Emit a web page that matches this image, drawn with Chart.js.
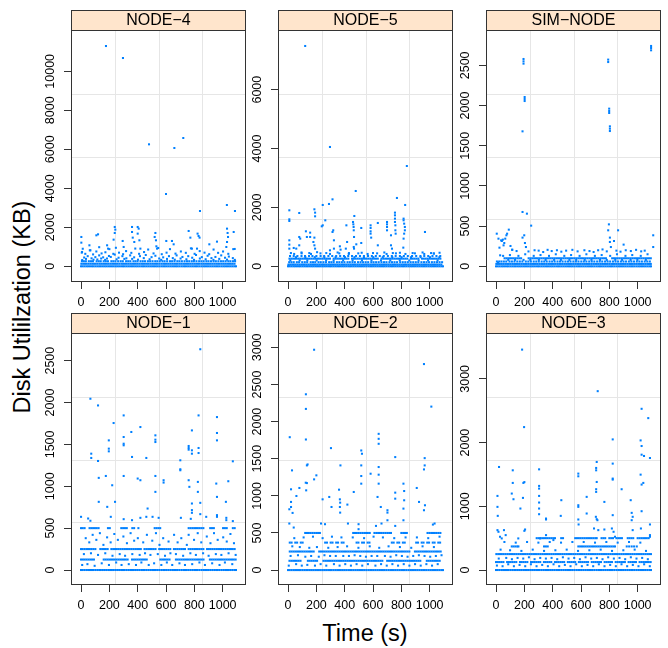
<!DOCTYPE html>
<html>
<head>
<meta charset="utf-8">
<script src="https://cdn.jsdelivr.net/npm/chart.js@4.4.1/dist/chart.umd.min.js"></script>
<style>
  body { margin: 0; background: #fff; width: 668px; height: 648px; position: relative; overflow: hidden;
         font-family: "Liberation Sans", Arial, sans-serif; color: #000; }
  canvas { position: absolute; }
  .axis-title { position: absolute; font-size: 23.5px; line-height: 1; white-space: nowrap; }
  #ytitle { left: 23px; top: 307px; transform: translate(-50%, -50%) rotate(-90deg); }
  #xtitle { left: 365px; top: 634px; transform: translate(-50%, -50%); }
</style>
</head>
<body>
<div id="ytitle" class="axis-title">Disk Utililzation (KB)</div>
<div id="xtitle" class="axis-title">Time (s)</div>
<script>
// time axis (seconds)
const timeTicks = [0, 200, 400, 600, 800, 1000];
const sampleTimes = [0, 12, 25, 38, 50, 63, 77, 89, 102, 115, 128, 140, 154, 167, 179, 192, 205, 218, 231, 244, 256, 269, 283, 296, 308, 321, 334, 347, 360, 373, 386, 398, 411, 425, 438, 450, 463, 476, 489, 502, 515, 528, 540, 553, 567, 580, 592, 605, 618, 631, 644, 657, 670, 682, 695, 709, 722, 734, 747, 760, 773, 786, 799, 812, 824, 837, 851, 864, 876, 889, 902, 915, 928, 941, 954, 966, 979, 993, 1006, 1018, 1031, 1044, 1057, 1070, 1083, 1094];

// NODE-4
const node4Ticks = [0, 2000, 4000, 6000, 8000, 10000];
const node4Row130 = [2, 15, 28, 40, 53, 66, 79, 92, 104, 117, 131, 143, 156, 169, 182, 194, 207, 220, 233, 246, 258, 271, 285, 297, 310, 323, 336, 349, 361, 374, 387, 400, 413, 426, 438, 451, 465, 477, 490, 503, 516, 529, 541, 554, 568, 581, 593, 606, 619, 632, 645, 658, 671, 683, 697, 710, 723, 735, 748, 761, 774, 787, 800, 813, 826, 838, 852, 865, 877, 890, 903, 916, 929, 942, 955, 968, 980, 994, 1007, 1019, 1032, 1045, 1058, 1071, 1084];
const node4Row260 = [6, 20, 34, 55, 70, 84, 110, 125, 139, 160, 175, 190, 214, 228, 243, 262, 280, 295, 318, 333, 348, 370, 384, 399, 420, 436, 452, 472, 488, 505, 524, 539, 556, 575, 590, 608, 628, 643, 660, 680, 695, 712, 731, 748, 764, 782, 797, 815, 834, 850, 866, 885, 900, 918, 936, 952, 970, 988, 1004, 1021, 1040, 1055, 1073, 1088];
const node4Points = [
  [8, 320], [22, 450], [35, 380], [47, 520], [74, 410], [88, 340], [101, 470], [115, 350], [128, 560], [142, 400], [156, 460], [170, 330], [183, 400], [197, 530], [210, 480], [238, 600], [251, 360], [265, 440], [292, 520], [306, 380], [320, 410], [347, 560], [361, 380], [375, 460], [402, 340], [416, 520], [443, 420], [457, 580], [484, 360], [498, 470], [525, 540], [552, 400], [566, 330], [580, 460], [607, 380], [621, 520], [648, 420], [662, 340], [675, 560], [703, 400], [716, 480], [744, 360], [757, 520], [785, 440], [798, 330], [812, 580], [839, 400], [853, 470], [880, 360], [894, 540], [921, 420], [935, 330], [949, 480], [976, 380], [990, 560], [1017, 440], [1031, 340], [1044, 500], [1072, 420], [1086, 330],
  [5, 700], [12, 900], [30, 640], [62, 820], [85, 610], [108, 760], [128, 980], [145, 660], [172, 720], [200, 880], [228, 640], [246, 950], [268, 700], [297, 620], [318, 780], [355, 690], [383, 910], [410, 640], [445, 730], [474, 860], [512, 660], [545, 940], [570, 620], [604, 700], [628, 880], [667, 650], [705, 760], [740, 690], [776, 920], [802, 640], [838, 780], [872, 700], [905, 620], [936, 860], [968, 690], [1003, 760], [1040, 640], [1075, 880],
  [2, 1504], [2, 1213], [7, 735], [59, 1077], [66, 820], [108, 1589], [120, 1640], [184, 1077], [191, 906], [238, 2017], [242, 1880], [238, 1709], [230, 1367], [294, 1299], [301, 991], [360, 2017], [360, 1760], [365, 1470], [376, 1247], [400, 2017], [407, 1931], [400, 1675], [412, 1333], [419, 906], [525, 1709], [520, 1504], [529, 1333], [532, 1025], [537, 906], [602, 1299], [642, 1299], [654, 1128], [760, 1811], [772, 1470], [783, 906], [823, 1675], [830, 1555], [837, 1470], [819, 906], [906, 1128], [960, 1265], [1031, 1931], [1035, 1709], [1038, 1504], [1031, 1247], [1026, 991], [1078, 1760], [1085, 889],
  [176, 11297], [296, 10682], [480, 6256], [659, 6067], [722, 6580], [600, 3708], [840, 2836], [1030, 3144], [1087, 2836]
];

// NODE-5
const node5Ticks = [0, 2000, 4000, 6000];
const node5Row60 = [3, 16, 29, 41, 54, 67, 80, 93, 106, 118, 131, 144, 157, 170, 183, 196, 208, 221, 234, 247, 260, 273, 286, 298, 311, 324, 337, 350, 363, 376, 388, 401, 414, 427, 440, 453, 466, 478, 491, 504, 517, 530, 543, 556, 568, 581, 594, 607, 620, 633, 646, 658, 671, 684, 697, 710, 723, 736, 748, 761, 774, 787, 800, 813, 826, 838, 851, 864, 877, 890, 903, 916, 928, 941, 954, 967, 980, 993, 1006, 1018, 1031, 1044, 1057, 1070, 1083];
const node5Row140 = [8, 24, 40, 62, 78, 100, 118, 135, 160, 176, 192, 215, 231, 250, 268, 290, 306, 322, 345, 362, 380, 398, 420, 436, 455, 472, 494, 512, 530, 548, 566, 588, 604, 622, 640, 660, 678, 695, 716, 734, 752, 770, 792, 810, 828, 846, 866, 884, 902, 920, 942, 960, 978, 996, 1016, 1034, 1052, 1070, 1088];
const node5Row260 = [10, 23, 36, 49, 62, 75, 88, 101, 114, 127, 140, 153, 166, 179, 192, 205, 218, 231, 244, 257, 270, 283, 296, 322, 335, 348, 361, 374, 387, 400, 413, 426, 452, 465, 478, 491, 504, 517, 530, 543, 556, 569, 582, 595, 608, 621, 634, 660, 673, 686, 699, 712, 725, 738, 751, 764, 777, 790, 803, 816, 829, 842, 868, 881, 894, 907, 920, 946, 959, 972, 985, 998, 1011, 1024, 1037, 1050, 1063, 1076];
const node5Row350 = [14, 40, 66, 95, 120, 148, 172, 200, 230, 255, 285, 312, 340, 368, 395, 425, 452, 480, 508, 536, 565, 592, 620, 648, 676, 705, 733, 760, 790, 818, 846, 876, 905, 935, 962, 990, 1020, 1048, 1075];
const node5Points = [
  [4, 30], [16, 200], [43, 420], [56, 310], [82, 200], [96, 440], [122, 310], [136, 200], [162, 420], [189, 310], [202, 200], [229, 440], [256, 310], [269, 200], [296, 420], [322, 200], [336, 310], [362, 440], [389, 200], [402, 310], [429, 420], [456, 200], [469, 310], [496, 440], [522, 200], [536, 310], [562, 420], [589, 200], [602, 310], [629, 440], [656, 200], [669, 310], [696, 420], [722, 200], [736, 310], [762, 440], [789, 200], [802, 310], [829, 420], [856, 200], [869, 310], [896, 440], [922, 200], [936, 310], [962, 420], [989, 200], [1002, 310], [1029, 440], [1056, 200], [1069, 310],
  [20, 450], [95, 470], [150, 450], [205, 480], [270, 450], [350, 470], [430, 450], [520, 460], [600, 450], [680, 470], [740, 450], [790, 460], [880, 450], [950, 470], [1010, 450], [1070, 460],
  [9, 883], [9, 736], [9, 600], [40, 623], [58, 600], [79, 713], [79, 996], [86, 940], [126, 1189], [133, 996], [156, 996], [156, 1143], [179, 826], [186, 974], [186, 713], [191, 600], [238, 1358], [245, 1392], [314, 1166], [319, 1223], [324, 883], [324, 600], [296, 543], [366, 679], [371, 566], [412, 1392], [417, 826], [408, 600], [459, 1506], [461, 1426], [463, 1336], [464, 1223], [466, 996], [464, 657], [466, 600], [482, 747], [517, 1302], [517, 792], [583, 1392], [583, 1302], [583, 1189], [583, 1109], [587, 974], [634, 1472], [634, 713], [699, 1506], [699, 1426], [699, 1336], [699, 1223], [727, 1053], [727, 713], [734, 600], [755, 1823], [755, 1732], [755, 1619], [755, 1506], [758, 1392], [758, 1223], [760, 1109], [769, 2321], [816, 1619], [816, 1562], [820, 1449], [825, 1336], [825, 1223], [820, 1109], [816, 940], [814, 634], [827, 2083], [839, 3407], [967, 1166], [1030, 430],
  [9, 1902], [9, 1596], [9, 1540], [79, 1811], [186, 1936], [191, 1823], [191, 1698], [245, 2083], [289, 2117], [314, 2275], [263, 1562], [468, 1709], [478, 2558], [296, 4053], [121, 7483]
];

// SIM-NODE
const simTicks = [0, 500, 1000, 1500, 2000, 2500];
const simRow30 = [2, 14, 27, 40, 52, 65, 78, 90, 103, 116, 128, 141, 154, 166, 179, 192, 205, 217, 230, 243, 255, 268, 281, 293, 306, 319, 331, 344, 357, 370, 382, 395, 408, 420, 433, 446, 458, 471, 484, 496, 509, 522, 535, 547, 560, 573, 585, 598, 611, 623, 636, 649, 661, 674, 687, 700, 712, 725, 738, 750, 763, 776, 788, 801, 814, 826, 839, 852, 865, 877, 890, 903, 915, 928, 941, 953, 966, 979, 991, 1004, 1017, 1030, 1042, 1055, 1068, 1080, 1093];
const simRow60 = [6, 22, 38, 55, 72, 95, 112, 130, 150, 168, 186, 210, 228, 246, 266, 284, 302, 322, 340, 358, 378, 396, 414, 434, 452, 470, 490, 508, 526, 546, 564, 582, 602, 620, 638, 658, 676, 694, 714, 732, 750, 770, 788, 806, 826, 844, 862, 882, 900, 918, 938, 956, 974, 994, 1012, 1030, 1050, 1068, 1086];
const simRow100 = [60, 73, 86, 99, 112, 125, 138, 151, 164, 177, 230, 243, 256, 269, 282, 295, 308, 321, 334, 347, 360, 373, 386, 399, 412, 425, 438, 451, 464, 477, 490, 503, 516, 529, 542, 555, 568, 581, 594, 607, 620, 633, 646, 659, 672, 685, 698, 711, 724, 737, 750, 763, 776, 820, 833, 846, 859, 872, 885, 898, 911, 924, 937, 950, 963, 976, 989, 1002, 1015, 1028, 1041, 1054, 1067, 1080, 1093];
const simPoints = [
  [14, 45], [50, 130], [86, 80], [98, 140], [134, 80], [158, 130], [194, 80], [206, 150], [242, 80], [266, 130], [302, 80], [314, 140], [350, 80], [374, 130], [410, 80], [422, 150], [458, 80], [482, 130], [518, 80], [530, 140], [566, 80], [590, 130], [626, 80], [638, 150], [674, 80], [698, 130], [734, 80], [746, 140], [782, 80], [806, 130], [842, 80], [854, 150], [890, 80], [914, 130], [950, 80], [962, 140], [998, 80], [1022, 130], [1058, 80], [1070, 150],
  [114, 205], [145, 190], [229, 185], [272, 200], [301, 195], [333, 178], [364, 205], [393, 190], [430, 200], [461, 182], [495, 195], [539, 205], [576, 186], [624, 200], [660, 190], [689, 178], [721, 200], [752, 210], [782, 186], [850, 195], [879, 182], [916, 200], [952, 190], [989, 205], [1025, 186], [1050, 195],
  [5, 406], [17, 344], [24, 232], [36, 323], [48, 332], [58, 290], [65, 344], [78, 406], [90, 456], [29, 137], [41, 315], [53, 261], [73, 386], [102, 253], [114, 207],
  [187, 357], [199, 386], [204, 290], [211, 240], [187, 676], [218, 655], [248, 506],
  [797, 522], [792, 448], [804, 357], [804, 303], [811, 240], [833, 315], [862, 448], [901, 270],
  [1110, 386], [1110, 240],
  [194, 2579], [194, 2550], [194, 2521], [202, 2106], [202, 2081], [202, 2056], [187, 1679], [792, 2571], [792, 2541], [799, 1961], [799, 1932], [799, 1907], [804, 1741], [804, 1712], [804, 1683], [1095, 2741], [1095, 2716], [1095, 2687]
];

// NODE-1
const node1Ticks = [0, 500, 1000, 1500, 2000, 2500];
const node1Row125 = [0, 13, 26, 39, 52, 65, 78, 91, 160, 173, 186, 199, 212, 225, 238, 251, 264, 277, 290, 303, 316, 329, 360, 373, 386, 399, 412, 425, 438, 451, 464, 560, 573, 586, 599, 612, 625, 670, 683, 696, 709, 722, 735, 748, 761, 774, 787, 800, 813, 826, 839, 852, 865, 910, 923, 936, 949, 962, 975, 988, 1001, 1014, 1027, 1040, 1053, 1066, 1079, 1092];
const node1Row250 = [0, 11, 24, 37, 49, 62, 75, 88, 101, 136, 149, 162, 175, 188, 214, 227, 240, 253, 266, 279, 292, 305, 318, 331, 344, 357, 370, 383, 396, 409, 422, 448, 461, 474, 487, 500, 513, 526, 552, 565, 578, 591, 604, 617, 630, 656, 669, 682, 695, 708, 721, 734, 760, 773, 786, 799, 812, 825, 838, 851, 864, 890, 903, 916, 929, 942, 955, 968, 981, 994, 1007, 1020, 1033, 1046, 1059, 1072, 1085];
const node1Row500 = [0, 12, 25, 60, 72, 85, 98, 111, 124, 190, 203, 284, 297, 310, 323, 362, 375, 405, 520, 533, 546, 559, 760, 773, 786, 799, 812, 825, 838, 851, 864, 912, 925, 938, 1003, 1016, 1029, 1072, 1085];
const node1Points = [
  [8, 60], [20, 190], [33, 380], [45, 70], [58, 330], [70, 200], [82, 420], [96, 50], [108, 360], [120, 180], [133, 440], [146, 80], [158, 300], [171, 200], [184, 390], [197, 60], [209, 330], [222, 170], [235, 430], [248, 90], [260, 360], [273, 190], [286, 60], [299, 400], [311, 170], [324, 320], [337, 70], [350, 440], [362, 190], [375, 350], [388, 60], [401, 380], [414, 180], [426, 90], [439, 330], [452, 200], [465, 420], [478, 60], [490, 180], [503, 350], [516, 80], [529, 440], [542, 190], [554, 300], [567, 60], [580, 380], [593, 170], [606, 90], [618, 340], [631, 200], [644, 60], [657, 420], [670, 190], [682, 330], [695, 80], [708, 380], [721, 170], [734, 60], [747, 300], [760, 420], [772, 200], [785, 70], [798, 360], [811, 180], [824, 440], [836, 90], [849, 330], [862, 200], [875, 60], [888, 400], [901, 170], [914, 320], [926, 80], [939, 440], [952, 190], [965, 360], [978, 60], [991, 180], [1004, 390], [1016, 90], [1029, 340], [1042, 200], [1055, 430], [1068, 70], [1080, 320], [1092, 180],
  [0, 635], [50, 615], [66, 588], [210, 635], [301, 607], [360, 595], [419, 623], [461, 635], [505, 635], [548, 623], [705, 623], [775, 611], [842, 667], [884, 635], [960, 635], [960, 655], [1026, 623], [1026, 595], [1072, 584],
  [125, 1100], [175, 1123], [220, 1012], [301, 1123], [400, 1092], [419, 1072], [525, 1123], [525, 933], [583, 1072], [583, 1044], [760, 1072], [765, 993], [825, 1052], [825, 933], [955, 1032], [960, 873], [1040, 1060], [1023, 814], [125, 814], [240, 814], [185, 754], [470, 734], [783, 794], [783, 715], [783, 683], [842, 802],
  [66, 2045], [120, 1965], [301, 1846], [230, 1755], [419, 1707], [355, 1648], [525, 1608], [525, 1556], [525, 1528], [196, 1548], [196, 1449], [196, 1417], [301, 1588], [301, 1508], [301, 1489], [72, 1389], [72, 1338], [120, 1302], [360, 1350], [461, 1338], [701, 1310], [701, 1203], [701, 1191], [760, 1481], [760, 1457], [760, 1437], [783, 1429], [783, 1389], [830, 1457], [830, 1397], [830, 1846], [783, 1667], [960, 1826], [960, 1636], [960, 1548], [842, 2636], [1072, 1298]
];

// NODE-2
const node2Ticks = [0, 500, 1000, 1500, 2000, 2500, 3000];
const node2Row125 = [10, 23, 36, 49, 62, 75, 88, 140, 153, 166, 179, 192, 205, 250, 263, 276, 289, 302, 315, 328, 341, 354, 367, 380, 393, 406, 419, 432, 445, 458, 471, 484, 497, 510, 523, 536, 549, 562, 575, 588, 601, 614, 627, 640, 653, 666, 700, 713, 726, 739, 752, 765, 778, 791, 804, 817, 830, 843, 856, 869, 882, 895, 908, 921, 934, 980, 993, 1006, 1019, 1032, 1045, 1058, 1071];
const node2Row250 = [12, 25, 38, 51, 64, 77, 90, 103, 116, 129, 142, 155, 168, 181, 220, 233, 246, 259, 272, 285, 298, 311, 324, 337, 350, 363, 376, 389, 402, 415, 428, 441, 454, 467, 480, 493, 506, 519, 532, 545, 558, 571, 584, 597, 610, 623, 636, 649, 662, 675, 688, 701, 714, 727, 740, 753, 766, 779, 792, 805, 818, 831, 844, 857, 896, 909, 922, 935, 948, 961, 974, 987, 1000, 1013, 1026, 1039, 1052, 1065, 1078];
const node2Row370 = [12, 25, 51, 64, 90, 103, 262, 275, 301, 314, 340, 353, 379, 392, 484, 497, 523, 536, 562, 575, 733, 746, 772, 785, 811, 824, 905, 918, 944, 957, 983, 996, 1022, 1035, 1061, 1074];
const node2Row500 = [121, 134, 147, 160, 173, 186, 199, 212, 225, 460, 473, 486, 499, 512, 525, 538, 551, 564, 577, 610, 623, 636, 649, 662, 675, 688, 701, 714, 727, 800, 813, 826, 839, 985, 998, 1011, 1024, 1037, 1050, 1063, 1076];
const node2Points = [
  [5, 60], [18, 190], [30, 320], [44, 430], [57, 80], [70, 200], [83, 310], [97, 60], [110, 440], [122, 180], [136, 70], [150, 300], [163, 190], [176, 450], [190, 60], [204, 310], [217, 180], [230, 80], [244, 430], [257, 200], [270, 60], [284, 300], [297, 190], [310, 450], [324, 80], [337, 190], [350, 310], [364, 60], [377, 440], [390, 190], [404, 80], [417, 320], [430, 190], [444, 60], [457, 440], [470, 200], [484, 80], [497, 300], [510, 190], [524, 60], [537, 430], [550, 180], [564, 80], [577, 320], [590, 190], [604, 450], [617, 60], [630, 190], [644, 300], [657, 80], [670, 440], [684, 190], [697, 60], [710, 320], [724, 180], [737, 80], [750, 430], [764, 200], [777, 60], [790, 310], [804, 190], [817, 80], [830, 440], [844, 180], [857, 60], [870, 300], [884, 190], [897, 80], [910, 440], [924, 200], [937, 60], [950, 320], [964, 190], [977, 80], [990, 430], [1004, 180], [1017, 60], [1030, 310], [1044, 190], [1057, 80], [1070, 450], [1084, 200],
  [9, 627], [40, 573], [233, 627], [261, 618], [423, 627], [498, 618], [498, 551], [621, 595], [660, 627], [1023, 613], [1035, 627],
  [184, 2968], [960, 2775], [126, 2368], [126, 2171], [126, 1759], [1012, 2202], [12, 1790], [640, 1835], [640, 1768], [640, 1701], [303, 1643], [517, 1611], [522, 1567], [757, 1522], [965, 1508], [965, 1410], [960, 1356], [28, 1343], [138, 1423], [133, 1410], [370, 1410], [517, 1410], [517, 1267], [517, 1164], [583, 1298], [640, 1388], [640, 1285], [640, 1164], [200, 1276], [184, 1222], [125, 1177], [133, 1172], [128, 1074], [21, 1088], [59, 998], [80, 1106], [9, 819], [21, 918], [21, 850], [32, 770], [244, 953], [291, 985], [307, 850], [360, 1083], [366, 953], [368, 908], [366, 850], [368, 774], [419, 882], [464, 1052], [632, 985], [655, 850], [702, 806], [702, 774], [702, 671], [757, 1043], [757, 962], [757, 595], [815, 1164], [820, 1065], [820, 940], [815, 828], [815, 671], [909, 1106], [925, 918], [960, 806], [967, 873]
];

// NODE-3
const node3Ticks = [0, 1000, 2000, 3000];
const node3Row125 = [0, 13, 26, 39, 52, 78, 91, 104, 117, 130, 143, 169, 182, 195, 208, 221, 247, 260, 273, 286, 299, 312, 338, 351, 364, 377, 390, 416, 429, 442, 455, 468, 481, 507, 520, 533, 546, 559, 585, 598, 611, 624, 637, 650, 676, 689, 702, 715, 728, 741, 767, 780, 793, 806, 819, 845, 858, 871, 884, 897, 910, 936, 949, 962, 975, 988, 1014, 1027, 1040, 1053, 1066, 1079, 1092];
const node3Row250 = [2, 15, 28, 41, 54, 67, 80, 93, 106, 119, 132, 145, 158, 171, 184, 197, 210, 223, 236, 249, 262, 275, 288, 301, 314, 327, 340, 353, 366, 379, 392, 405, 418, 431, 444, 457, 470, 483, 496, 509, 522, 535, 548, 561, 574, 587, 600, 613, 626, 639, 652, 665, 678, 691, 704, 717, 730, 743, 756, 769, 782, 795, 808, 821, 834, 847, 860, 873, 886, 899, 912, 925, 938, 951, 964, 977, 990, 1003, 1016, 1029, 1042, 1055, 1068, 1081, 1094];
const node3Row370 = [111, 124, 137, 150, 158, 339, 352, 365, 581, 594, 607, 620, 633, 646, 659, 672, 685, 698, 711, 724, 737, 750, 763, 776, 789, 802, 815, 828, 840, 923, 940, 958, 975, 994];
const node3Row500 = [287, 300, 313, 326, 339, 352, 365, 378, 391, 404, 416, 460, 473, 559, 572, 585, 598, 611, 624, 637, 650, 663, 676, 689, 702, 711, 745, 758, 771, 800, 813, 826, 850, 863, 876, 889, 930, 943, 956, 969, 1000, 1013, 1026, 1039, 1052, 1065, 1078];
const node3Points = [
  [6, 70], [19, 180], [32, 320], [46, 60], [59, 440], [72, 190], [86, 90], [99, 310], [112, 170], [126, 60], [139, 430], [152, 190], [166, 80], [179, 300], [192, 180], [206, 60], [219, 440], [232, 200], [246, 90], [259, 320], [272, 170], [286, 60], [299, 430], [312, 190], [326, 80], [339, 300], [352, 180], [366, 60], [379, 440], [392, 190], [406, 90], [419, 310], [432, 170], [446, 60], [459, 430], [472, 200], [486, 80], [499, 320], [512, 180], [526, 60], [539, 440], [552, 190], [566, 90], [579, 300], [592, 170], [606, 60], [619, 440], [632, 200], [646, 80], [659, 310], [672, 180], [686, 60], [699, 430], [712, 190], [726, 90], [739, 320], [752, 170], [766, 60], [779, 440], [792, 200], [806, 80], [819, 300], [832, 180], [846, 60], [859, 430], [872, 190], [886, 90], [899, 310], [912, 170], [926, 60], [939, 440], [952, 200], [966, 80], [979, 320], [992, 180], [1006, 60], [1019, 430], [1032, 190], [1046, 90], [1059, 300], [1072, 170], [1086, 60],
  [10, 626], [17, 600], [28, 522], [40, 496], [56, 626], [68, 548], [205, 636], [200, 615], [157, 496], [311, 496], [353, 548], [405, 470], [692, 652], [722, 626], [765, 636], [818, 652], [830, 600], [840, 522], [965, 626], [1023, 652], [1087, 522], [1087, 548],
  [184, 3459], [718, 2807], [198, 2243], [1028, 2530], [1075, 2384], [824, 2050], [1021, 2034], [1028, 1946], [1028, 1810], [1045, 1790], [1087, 1758], [711, 1696], [707, 1602], [707, 1565], [711, 1382], [707, 1268], [707, 1226], [824, 1670], [824, 1435], [824, 1419], [1021, 1497], [1040, 1367], [1028, 1341], [21, 1617], [118, 1565], [304, 1580], [581, 1513], [581, 1471], [581, 1017], [581, 991], [118, 1367], [193, 1367], [200, 1380], [111, 1200], [123, 1111], [304, 1320], [304, 1278], [304, 1163], [304, 1059], [304, 965], [304, 876], [190, 1132], [172, 965], [10, 1163], [10, 991], [12, 850], [461, 1096], [887, 1268], [765, 1069], [951, 1096], [958, 897], [965, 835], [958, 782], [640, 1148], [353, 808], [353, 793], [457, 850], [581, 793], [583, 715], [640, 887], [705, 835], [711, 798], [716, 782], [824, 861], [1028, 923], [1087, 715]
];

const FONT = "'Liberation Sans', Arial, sans-serif";
const STRIP_H = 21;

function rowPoints(xs, y) { return xs.map(x => ({ x, y })); }
function pairPoints(list) { return list.map(([x, y]) => ({ x, y })); }

const panels = [
  { title: 'NODE−4', left: 71, top: 10, yMin: -805, yMax: 12067, ticks: node4Ticks,
    data: [...rowPoints(sampleTimes, 0), ...rowPoints(node4Row130, 130), ...rowPoints(node4Row260, 260), ...pairPoints(node4Points)] },
  { title: 'NODE−5', left: 278, top: 10, yMin: -533, yMax: 7992, ticks: node5Ticks,
    data: [...rowPoints(sampleTimes, 0), ...rowPoints(node5Row60, 60), ...rowPoints(node5Row140, 140), ...rowPoints(node5Row260, 260), ...rowPoints(node5Row350, 350), ...pairPoints(node5Points)] },
  { title: 'SIM−NODE', left: 486, top: 10, yMin: -195, yMax: 2927, ticks: simTicks,
    data: [...rowPoints(sampleTimes, 0), ...rowPoints(simRow30, 30), ...rowPoints(simRow60, 60), ...rowPoints(simRow100, 100), ...pairPoints(simPoints)] },
  { title: 'NODE−1', left: 71, top: 313, yMin: -179, yMax: 2818, ticks: node1Ticks,
    data: [...rowPoints(sampleTimes, 0), ...rowPoints(node1Row125, 125), ...rowPoints(node1Row250, 250), ...rowPoints(node1Row500, 500), ...pairPoints(node1Points)] },
  { title: 'NODE−2', left: 278, top: 313, yMin: -201, yMax: 3180, ticks: node2Ticks,
    data: [...rowPoints(sampleTimes, 0), ...rowPoints(node2Row125, 125), ...rowPoints(node2Row250, 250), ...rowPoints(node2Row370, 370), ...rowPoints(node2Row500, 500), ...pairPoints(node2Points)] },
  { title: 'NODE−3', left: 486, top: 313, yMin: -235, yMax: 3704, ticks: node3Ticks,
    data: [...rowPoints(sampleTimes, 0), ...rowPoints(node3Row125, 125), ...rowPoints(node3Row250, 250), ...rowPoints(node3Row370, 370), ...rowPoints(node3Row500, 500), ...pairPoints(node3Points)] }
];

// strip, frame, quarter grid and rotated y labels, lattice style
const latticePanel = {
  id: 'latticePanel',
  beforeDatasetsDraw(chart) {
    const { ctx, chartArea: a } = chart;
    ctx.save();
    ctx.strokeStyle = '#e6e6e6';
    ctx.lineWidth = 1;
    ctx.beginPath();
    for (let i = 1; i < 4; i++) {
      const x = Math.round(a.left + (a.right - a.left) * i / 4) + 0.5;
      const y = Math.round(a.top + (a.bottom - a.top) * i / 4) + 0.5;
      ctx.moveTo(x, a.top); ctx.lineTo(x, a.bottom);
      ctx.moveTo(a.left, y); ctx.lineTo(a.right, y);
    }
    ctx.stroke();
    ctx.restore();
  },
  afterDraw(chart, args, opts) {
    const { ctx, chartArea: a } = chart;
    const yScale = chart.scales.y;
    ctx.save();
    // strip
    ctx.fillStyle = '#ffe5cc';
    ctx.fillRect(a.left, a.top - STRIP_H, a.right - a.left, STRIP_H);
    ctx.strokeStyle = '#333';
    ctx.lineWidth = 1;
    ctx.strokeRect(a.left + 0.5, a.top - STRIP_H + 0.5, a.right - a.left - 1, a.bottom - a.top + STRIP_H - 1);
    ctx.beginPath();
    ctx.moveTo(a.left, a.top - 0.5);
    ctx.lineTo(a.right, a.top - 0.5);
    ctx.stroke();
    ctx.fillStyle = '#000';
    ctx.font = '16px ' + FONT;
    ctx.textAlign = 'center';
    ctx.textBaseline = 'middle';
    ctx.fillText(opts.title, (a.left + a.right) / 2, a.top - STRIP_H / 2 + 0.5);
    // y tick labels, rotated
    ctx.font = '12.5px ' + FONT;
    yScale.ticks.forEach(t => {
      const py = yScale.getPixelForValue(t.value);
      ctx.save();
      ctx.translate(a.left - 20, py);
      ctx.rotate(-Math.PI / 2);
      ctx.fillText(String(t.value), 0, 0);
      ctx.restore();
    });
    ctx.restore();
  }
};

panels.forEach(p => {
  const canvas = document.createElement('canvas');
  canvas.width = 223;
  canvas.height = 304;
  canvas.style.left = (p.left - 46) + 'px';
  canvas.style.top = p.top + 'px';
  document.body.appendChild(canvas);

  new Chart(canvas, {
    type: 'scatter',
    data: {
      datasets: [{
        data: p.data,
        pointStyle: 'rect',
        pointRadius: 1.45,
        pointHoverRadius: 1.45,
        pointBorderWidth: 0,
        pointBackgroundColor: '#0080ff'
      }]
    },
    options: {
      responsive: false,
      animation: false,
      events: [],
      layout: { padding: { top: STRIP_H, right: 2, left: 0, bottom: 0 } },
      plugins: {
        legend: { display: false },
        tooltip: { enabled: false },
        latticePanel: { title: p.title }
      },
      scales: {
        x: {
          type: 'linear',
          min: -71,
          max: 1165,
          afterBuildTicks: s => { s.ticks = timeTicks.map(v => ({ value: v })); },
          afterFit: s => { s.height = 32; },
          border: { display: false },
          grid: { drawOnChartArea: false, color: '#333', tickLength: 7 },
          ticks: {
            autoSkip: false, maxRotation: 0, padding: 6, color: '#000',
            font: { family: FONT, size: 12.5 },
            callback: v => String(v)
          }
        },
        y: {
          type: 'linear',
          min: p.yMin,
          max: p.yMax,
          afterBuildTicks: s => { s.ticks = p.ticks.map(v => ({ value: v })); },
          afterFit: s => { s.width = 46; },
          border: { display: false },
          grid: { drawOnChartArea: false, color: '#333', tickLength: 7 },
          ticks: { display: false }
        }
      }
    },
    plugins: [latticePanel]
  });
});
</script>
</body>
</html>
